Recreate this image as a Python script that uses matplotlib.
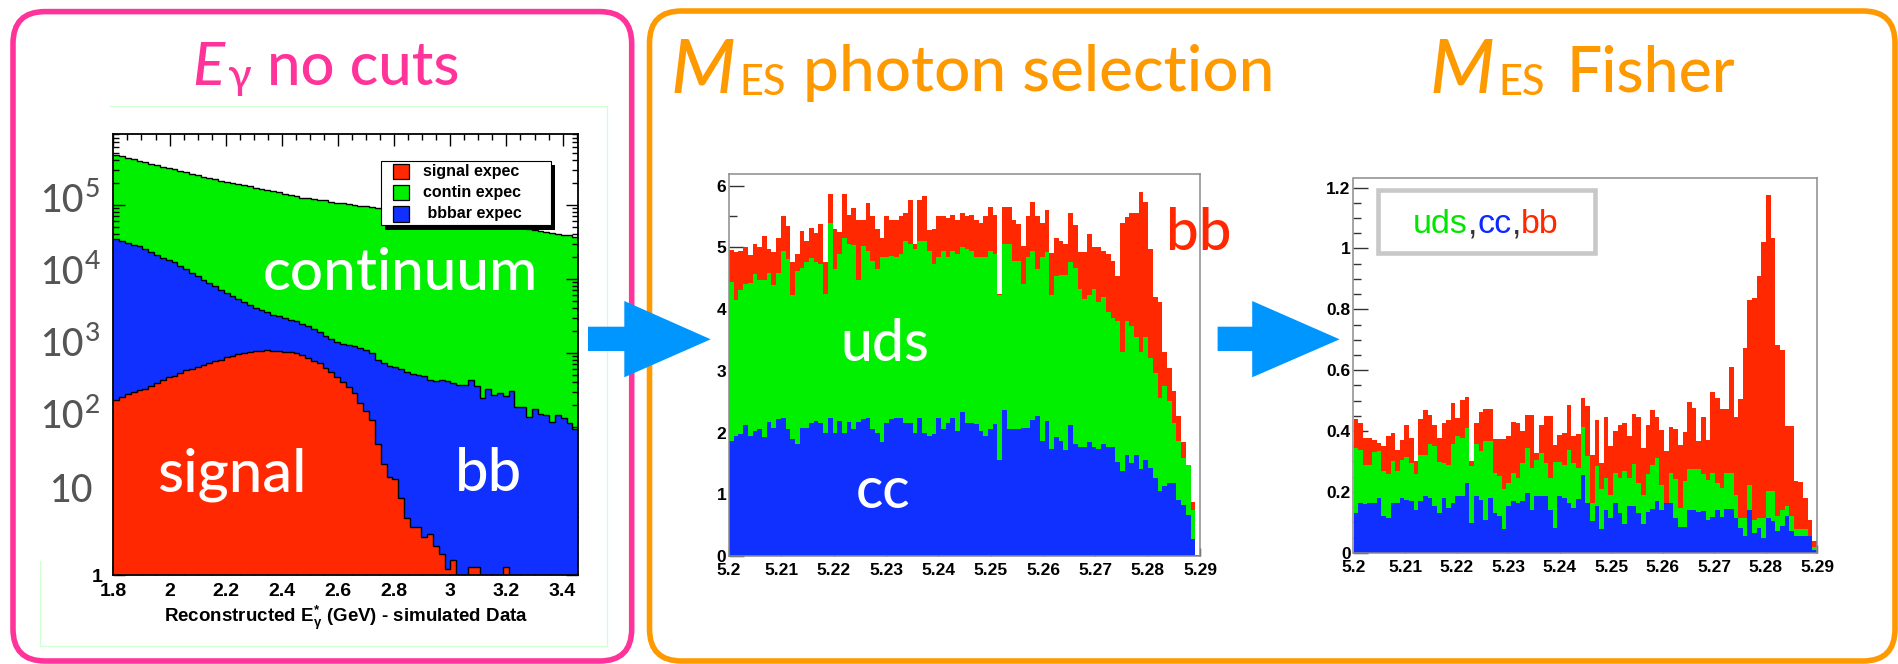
import numpy as np
import matplotlib
matplotlib.use("Agg")
import matplotlib.pyplot as plt
from matplotlib.patches import FancyBboxPatch, Rectangle, Polygon
from matplotlib.lines import Line2D
from matplotlib.ticker import MultipleLocator, FuncFormatter, LogLocator, NullFormatter

W, H = 1899, 664

plt.rcParams['font.family'] = ['Liberation Sans', 'DejaVu Sans']
plt.rcParams['font.weight'] = 'bold'
plt.rcParams['mathtext.fontset'] = 'custom'
plt.rcParams['mathtext.rm'] = 'Liberation Sans:bold'
plt.rcParams['mathtext.it'] = 'Liberation Sans:bold'
plt.rcParams['mathtext.bf'] = 'Liberation Sans:bold'
plt.rcParams['mathtext.default'] = 'rm'

# ---------------- E_gamma spectrum, no cuts (stacked levels, events/bin) ----------------
egamma_range = (1.8, 3.456)
# top of the stack: signal + bbbar + continuum
egamma_stack_total = [
    479000, 457000, 437000, 417000, 398000, 380000, 363000, 347000, 331000, 316000,
    302000, 288000, 275000, 263000, 251000, 240000, 229000, 224000, 214000, 204000,
    200000, 191000, 186000, 178000, 170000, 166000, 158000, 155000, 148000, 141000,
    138000, 132000, 126000, 123000, 120000, 117500, 115000, 110000, 107000, 105000,
    102000, 100000, 97700, 95500, 93300, 91200, 89100, 87100, 85100, 83200,
    81300, 79400, 77600, 75900, 74100, 72400, 70800, 69200, 67600, 66100,
    64600, 63100, 61700, 60300, 57500, 56200, 55000, 52500, 51300, 50100,
    49000, 47900, 45700, 44700, 43700, 41700, 40700, 39800, 38900, 37200]
# signal + bbbar
egamma_stack_sig_bb = [
    34700, 32400, 30200, 28800, 27500, 25100, 23400, 20900, 19500, 18200,
    17000, 15100, 13500, 12000, 11000, 9770, 8710, 7940, 7080, 6460,
    5890, 5370, 4900, 4470, 4070, 3800, 3550, 3310, 3160, 2950,
    2820, 2690, 2450, 2290, 2090, 1950, 1700, 1550, 1410, 1320,
    1290, 1230, 1150, 1100, 1000, 813, 741, 661, 646, 603,
    562, 525, 501, 490, 437, 417, 437, 417, 389, 372,
    372, 437, 355, 245, 324, 269, 288, 263, 302, 186,
    186, 138, 174, 151, 145, 117, 145, 132, 112, 95]
# signal only
egamma_signal = [
    229, 257, 275, 295, 316, 331, 355, 389, 437, 468,
    490, 537, 589, 617, 646, 692, 724, 776, 813, 871,
    912, 955, 1000, 1020, 1050, 1070, 1100, 1070, 1050, 1020,
    1020, 1000, 933, 851, 776, 724, 631, 550, 479, 407,
    347, 288, 214, 166, 123, 59, 32, 21, 20, 11,
    5.9, 4.5, 4.5, 3.3, 3.6, 2.5, 1.9, 1.2, 1.6, 0,
    0, 1.3, 1.3, 0, 0, 0, 0, 1.3, 0, 0,
    0, 0, 0, 0, 0, 0, 0, 0, 0, 0]
egamma_ticks = [1.8, 2.0, 2.2, 2.4, 2.6, 2.8, 3.0, 3.2, 3.4]
legend_entries = ["signal expec", "contin expec", " bbbar expec"]

# ---------------- mES after photon selection (stacked levels) ----------------
mes_range = (5.2, 5.29)
sel_stack_total = [
    4.95, 4.93, 4.94, 5.00, 4.87, 5.05, 5.00, 5.18, 4.97, 4.92,
    5.15, 5.51, 5.34, 4.77, 4.89, 5.27, 5.10, 5.31, 5.23, 5.38,
    4.76, 5.87, 5.30, 5.25, 5.87, 5.52, 5.63, 5.44, 5.44, 5.72,
    5.50, 5.30, 5.15, 5.50, 5.44, 5.44, 5.50, 5.55, 5.77, 5.05,
    5.77, 5.83, 5.28, 5.30, 5.50, 5.51, 5.47, 5.52, 5.44, 5.55,
    5.50, 5.52, 5.45, 5.40, 5.50, 5.65, 5.52, 4.24, 5.65, 5.65,
    5.44, 5.38, 5.02, 5.50, 5.73, 5.50, 5.39, 5.60, 4.91, 5.15,
    5.10, 5.05, 5.55, 5.37, 4.92, 4.93, 5.22, 5.00, 5.00, 4.94,
    4.89, 4.78, 4.53, 5.39, 5.49, 5.55, 5.55, 5.89, 5.73, 4.97,
    4.20, 4.12, 3.30, 3.04, 2.67, 2.27, 1.85, 1.30, 0.88, 0.02]
sel_stack_uds_cc = [
    4.44, 4.15, 4.31, 4.40, 4.43, 4.57, 4.47, 4.47, 4.59, 4.39,
    4.59, 4.94, 4.81, 4.23, 4.62, 4.66, 4.76, 4.82, 4.76, 4.73,
    4.25, 5.39, 4.65, 4.89, 5.15, 5.05, 5.03, 4.47, 5.02, 4.94,
    4.78, 4.65, 4.84, 4.85, 4.86, 4.85, 4.89, 5.10, 5.05, 4.97,
    5.10, 5.10, 4.94, 4.73, 4.84, 4.94, 4.85, 4.94, 4.89, 5.01,
    4.97, 4.94, 4.85, 4.85, 4.85, 4.94, 4.89, 4.22, 5.06, 5.06,
    4.78, 4.78, 4.41, 4.84, 4.94, 4.65, 4.85, 4.92, 4.23, 4.53,
    4.56, 4.56, 4.76, 4.66, 4.33, 4.17, 4.23, 4.33, 4.12, 4.20,
    3.96, 3.86, 3.80, 3.30, 3.80, 3.72, 3.54, 3.30, 3.54, 3.20,
    2.96, 2.56, 2.75, 2.51, 2.16, 1.87, 1.58, 1.48, 0.74, 0.02]
sel_cc = [
    1.86, 1.95, 1.98, 2.12, 1.95, 2.03, 2.06, 1.93, 2.17, 2.08,
    2.22, 2.24, 2.06, 1.90, 1.82, 2.08, 2.08, 2.16, 2.19, 2.16,
    2.00, 2.24, 2.00, 2.19, 2.00, 2.17, 2.06, 2.17, 2.22, 2.23,
    2.06, 2.00, 1.85, 2.16, 2.22, 2.24, 2.24, 2.16, 2.16, 2.00,
    2.24, 2.00, 1.95, 1.98, 2.24, 2.06, 2.16, 2.24, 2.03, 2.33,
    2.16, 2.16, 2.14, 2.03, 1.95, 2.06, 2.14, 1.56, 2.37, 2.06,
    2.06, 2.06, 2.08, 2.08, 2.21, 2.26, 1.87, 2.19, 1.74, 1.93,
    1.87, 1.71, 2.12, 1.82, 1.76, 1.76, 1.84, 1.76, 1.74, 1.82,
    1.76, 1.76, 1.53, 1.37, 1.64, 1.51, 1.64, 1.41, 1.56, 1.43,
    1.26, 1.06, 1.14, 1.19, 1.19, 0.90, 0.82, 0.66, 0.28, 0.02]

# ---------------- mES after Fisher cut (stacked levels) ----------------
fisher_stack_total = [
    0.439, 0.426, 0.377, 0.377, 0.369, 0.361, 0.352, 0.383, 0.392, 0.339,
    0.369, 0.421, 0.377, 0.300, 0.439, 0.468, 0.454, 0.421, 0.377, 0.426,
    0.435, 0.492, 0.443, 0.503, 0.511, 0.300, 0.426, 0.464, 0.472, 0.472,
    0.374, 0.374, 0.374, 0.385, 0.430, 0.426, 0.400, 0.454, 0.454, 0.328,
    0.421, 0.448, 0.448, 0.355, 0.388, 0.393, 0.486, 0.385, 0.390, 0.507,
    0.481, 0.320, 0.437, 0.295, 0.446, 0.352, 0.399, 0.421, 0.428, 0.383,
    0.457, 0.446, 0.344, 0.421, 0.470, 0.446, 0.402, 0.333, 0.413, 0.407,
    0.355, 0.396, 0.497, 0.475, 0.366, 0.446, 0.370, 0.527, 0.508, 0.472,
    0.472, 0.612, 0.446, 0.505, 0.672, 0.831, 0.837, 0.909, 1.022, 1.175,
    1.033, 0.683, 0.667, 0.417, 0.417, 0.235, 0.232, 0.180, 0.107, 0.040]
fisher_stack_uds_cc = [
    0.344, 0.339, 0.290, 0.290, 0.330, 0.333, 0.268, 0.260, 0.301, 0.268,
    0.306, 0.315, 0.295, 0.260, 0.322, 0.322, 0.358, 0.350, 0.297, 0.295,
    0.290, 0.358, 0.383, 0.377, 0.410, 0.284, 0.358, 0.333, 0.366, 0.366,
    0.262, 0.251, 0.208, 0.230, 0.262, 0.246, 0.295, 0.344, 0.279, 0.306,
    0.328, 0.295, 0.246, 0.297, 0.297, 0.290, 0.339, 0.295, 0.279, 0.413,
    0.317, 0.164, 0.286, 0.208, 0.246, 0.191, 0.262, 0.246, 0.268, 0.246,
    0.293, 0.230, 0.191, 0.260, 0.290, 0.311, 0.224, 0.164, 0.262, 0.243,
    0.148, 0.235, 0.275, 0.275, 0.275, 0.260, 0.238, 0.262, 0.230, 0.213,
    0.262, 0.262, 0.191, 0.115, 0.115, 0.224, 0.109, 0.115, 0.115, 0.202,
    0.202, 0.120, 0.142, 0.155, 0.120, 0.077, 0.077, 0.077, 0.055, 0.020]
fisher_cc = [
    0.131, 0.164, 0.160, 0.164, 0.164, 0.180, 0.120, 0.115, 0.164, 0.164,
    0.180, 0.175, 0.169, 0.142, 0.169, 0.188, 0.180, 0.153, 0.131, 0.180,
    0.148, 0.164, 0.188, 0.188, 0.230, 0.098, 0.188, 0.172, 0.109, 0.180,
    0.131, 0.120, 0.077, 0.153, 0.169, 0.164, 0.169, 0.197, 0.142, 0.188,
    0.188, 0.188, 0.142, 0.082, 0.188, 0.180, 0.164, 0.148, 0.178, 0.254,
    0.164, 0.104, 0.155, 0.077, 0.142, 0.115, 0.164, 0.131, 0.093, 0.155,
    0.155, 0.131, 0.093, 0.133, 0.144, 0.169, 0.140, 0.164, 0.164, 0.115,
    0.085, 0.085, 0.140, 0.140, 0.135, 0.137, 0.109, 0.118, 0.140, 0.118,
    0.144, 0.144, 0.115, 0.082, 0.055, 0.140, 0.066, 0.082, 0.049, 0.115,
    0.104, 0.071, 0.087, 0.120, 0.071, 0.055, 0.055, 0.055, 0.055, 0.010]

# ---------------- styling ----------------
RED = '#FF2800'
GREEN = '#00F000'
BLUE = '#1030FF'
PINK = '#FF3399'
ORANGE = '#FF9900'
ARROW = '#0096FF'
GREY_LABEL = '#555555'
FRAME_GREY = '#8c8c8c'
TITLE_FONT = ['Lato', 'DejaVu Sans']

fig = plt.figure(figsize=(W / 100, H / 100), dpi=100, facecolor='white')


def add_ax(x0, y0, x1, y1):
    """Axes placed by pixel box (top-left origin)."""
    return fig.add_axes([x0 / W, 1 - y1 / H, (x1 - x0) / W, (y1 - y0) / H])


fmt_g = FuncFormatter(lambda v, p: f'{v:g}')

# ---------------- panel 1: E_gamma, log scale ----------------
ax1 = add_ax(113.4, 134, 578.3, 575)
e1 = np.linspace(egamma_range[0], egamma_range[1], len(egamma_stack_total) + 1)
floor = 1e-2
ax1.set_yscale('log')
ax1.stairs(egamma_stack_total, e1, baseline=floor, fill=True, color=GREEN, lw=0, zorder=0.2)
ax1.stairs(egamma_stack_sig_bb, e1, baseline=floor, fill=True, color=BLUE, lw=0, zorder=1.0)
sig_plot = np.clip(np.asarray(egamma_signal, float), floor, None)
ax1.stairs(sig_plot, e1, baseline=floor, fill=True, color=RED, lw=0, zorder=1.1)
for lvl in (egamma_stack_total, egamma_stack_sig_bb, sig_plot):
    ax1.stairs(np.clip(np.asarray(lvl, float), floor, None), e1, baseline=None,
               color='black', lw=1.0, zorder=1.5)
ax1.set_xlim(*egamma_range)
ax1.set_ylim(1, 9.1e5)
ax1.set_axisbelow(True)
ax1.xaxis.set_minor_locator(MultipleLocator(0.05))
ax1.set_xticks(egamma_ticks)
ax1.xaxis.set_major_formatter(fmt_g)
ax1.yaxis.set_major_locator(LogLocator(base=10, numticks=20))
ax1.yaxis.set_minor_locator(LogLocator(base=10, subs=np.arange(2, 10) * 1.0, numticks=20))
ax1.yaxis.set_minor_formatter(NullFormatter())
ax1.yaxis.set_major_formatter(FuncFormatter(lambda v, p: '1' if np.isclose(v, 1) else ''))
ax1.tick_params(which='both', direction='in', top=True, right=True, width=1, color='black')
ax1.tick_params(which='major', length=8.5)
ax1.tick_params(which='minor', length=4.3)
ax1.tick_params(axis='x', labelsize=14, pad=6)
ax1.tick_params(axis='y', labelsize=14, pad=8)
for s in ax1.spines.values():
    s.set_linewidth(1.3)
    s.set_color('black')

# ---------------- panels 2 and 3: mES ----------------
e2 = np.linspace(mes_range[0], mes_range[1], len(sel_stack_total) + 1)


def mes_axes(box, total, uds_cc, cc, ymax, major, minor):
    ax = add_ax(*box)
    ax.stairs(total, e2, fill=True, color=RED, lw=0)
    ax.stairs(uds_cc, e2, fill=True, color=GREEN, lw=0)
    ax.stairs(cc, e2, fill=True, color=BLUE, lw=0)
    ax.set_xlim(*mes_range)
    ax.set_ylim(0, ymax)
    ax.set_axisbelow(True)
    ax.xaxis.set_major_locator(MultipleLocator(0.01))
    ax.xaxis.set_major_formatter(fmt_g)
    ax.yaxis.set_major_locator(MultipleLocator(major))
    ax.yaxis.set_minor_locator(MultipleLocator(minor))
    ax.yaxis.set_major_formatter(fmt_g)
    ax.tick_params(which='both', direction='in', color='#333333', width=1)
    ax.tick_params(axis='y', which='major', length=11, labelsize=12.5, pad=2)
    ax.tick_params(axis='y', which='minor', length=5.5)
    ax.tick_params(axis='x', which='major', length=6, labelsize=12.5, pad=5)
    for s in ax.spines.values():
        s.set_linewidth(1.1)
        s.set_color(FRAME_GREY)
    return ax


ax2 = mes_axes((729, 174.5, 1200, 556), sel_stack_total, sel_stack_uds_cc, sel_cc,
               6.18, 1, 0.5)
ax3 = mes_axes((1353.5, 177.5, 1817, 552.8), fisher_stack_total, fisher_stack_uds_cc,
               fisher_cc, 1.233, 0.2, 0.05)

# ---------------- overlay in pixel coordinates ----------------
ov = fig.add_axes([0, 0, 1, 1], zorder=10)
ov.set_xlim(0, W)
ov.set_ylim(H, 0)
ov.axis('off')
ov.patch.set_visible(False)
renderer = fig.canvas.get_renderer()


def txt(x, y, s, size, color, family=TITLE_FONT, weight='medium', style='normal',
        ha='left', va='baseline', z=6):
    return ov.text(x, y, s, fontsize=size, color=color, family=family,
                   fontweight=weight, fontstyle=style, ha=ha, va=va, zorder=z)


def width_of(t):
    return t.get_window_extent(renderer=renderer).width


# rounded section frames
ov.add_patch(FancyBboxPatch((13, 11.6), 631.7 - 13, 661 - 11.6,
                            boxstyle='round,pad=0,rounding_size=32',
                            fc='none', ec=PINK, lw=4, zorder=2))
ov.add_patch(FancyBboxPatch((649.5, 11), 1895 - 649.5, 661 - 11,
                            boxstyle='round,pad=0,rounding_size=32',
                            fc='none', ec=ORANGE, lw=4, zorder=2))

# faint canvas border around the first histogram
canvas_col = '#d2ffd2'
for xs, ys in (((110, 607.3), (106, 106)), ((607.3, 607.3), (106, 646)),
               ((40, 607.3), (646, 646)), ((40, 40), (561, 646))):
    ov.add_line(Line2D(xs, ys, color=canvas_col, lw=0.9, zorder=1))

# arrows between the panels
for x0, xb, xt in ((588, 624.3, 710.7), (1217.6, 1252.2, 1339.6)):
    ov.add_patch(Polygon([(x0, 326.7), (xb, 326.7), (xb, 301), (xt, 339.3),
                          (xb, 377.3), (xb, 351), (x0, 351)],
                         closed=True, fc=ARROW, ec='none', zorder=8))

# section titles
txt(192.7, 85, 'E', 43, PINK, style='italic')
txt(226.7, 89, 'γ', 31, PINK)
txt(267.3, 85, 'no cuts', 43, PINK)


def mes_symbol(x):
    m = txt(x, 93, 'M', 54, ORANGE, style='italic')
    txt(x + width_of(m) + 3, 95, 'ES', 30, ORANGE)


mes_symbol(671)
txt(803, 91, 'photon selection', 46, ORANGE)
mes_symbol(1430)
txt(1566.7, 91, 'Fisher', 45, ORANGE)

# decade labels of the log axis
for base_y, sup in ((212, '5'), (284, '4'), (356, '3'), (428, '2')):
    t10 = txt(40, base_y, '10', 27, GREY_LABEL)
    txt(40 + width_of(t10) + 1, base_y - 15, sup, 19, GREY_LABEL)
txt(49, 502, '10', 27, GREY_LABEL)

# component labels inside the histograms
txt(263, 290, 'continuum', 42, 'white')
txt(157, 491, 'signal', 43, 'white')
txt(455, 491, 'bb', 43, 'white')
txt(840, 361, 'uds', 41, 'white')
txt(856, 508, 'cc', 41, 'white')
txt(1166.5, 250, 'bb', 42, RED)

# x-axis title of the first histogram
ov.text(346, 618, r'Reconstructed E$^{*}_{\gamma}$ (GeV) - simulated Data',
        ha='center', va='center', fontsize=13.5, fontweight='bold', color='black', zorder=6)

# legend of the first histogram
ov.add_patch(Rectangle((385.2, 165.2), 170, 64.3, fc='black', ec='none', zorder=4))
ov.add_patch(Rectangle((380.7, 160.7), 170, 64.3, fc='white', ec='black', lw=0.8, zorder=5))
for (y0, y1), col, label in zip(((164, 179.3), (185, 200), (206, 221.7)),
                                (RED, GREEN, BLUE), legend_entries):
    ov.add_patch(Rectangle((392.7, y0), 16.6, y1 - y0, fc=col, ec='black', lw=0.9, zorder=6))
    ov.text(423.3, (y0 + y1) / 2, label, ha='left', va='center', fontsize=11.5,
            fontweight='bold', color='black', zorder=6)

# legend box of the Fisher histogram
ov.add_patch(Rectangle((1378.3, 190), 217.2, 62.7, fc='white', ec='#c8c8c8', lw=3.3, zorder=5))
xpos = 1413
for piece, col in (('uds', '#00E600'), (',', '#333333'), ('cc', '#0A2AFF'),
                   (',', '#333333'), ('bb', RED)):
    t = ov.text(xpos, 233.3, piece, fontsize=24.5, fontweight='normal', color=col,
                ha='left', va='baseline', zorder=6)
    xpos += width_of(t)

fig.savefig('out.png', dpi=100, facecolor='white')
